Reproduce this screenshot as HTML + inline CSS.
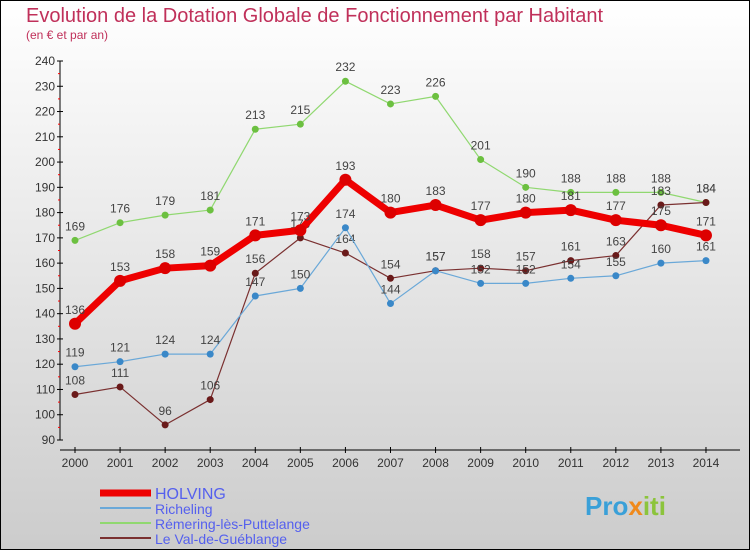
<!DOCTYPE html>
<html><head><meta charset="utf-8"><style>
body{margin:0}
svg{display:block;font-family:"Liberation Sans",sans-serif}
</style></head><body>
<svg id="c" width="750" height="550" xmlns="http://www.w3.org/2000/svg">
<defs><linearGradient id="bg" x1="0" y1="0" x2="0" y2="1"><stop offset="0" stop-color="#ffffff"/><stop offset="1" stop-color="#cccccc"/></linearGradient></defs>
<rect x="0.5" y="0.5" width="749" height="549" fill="url(#bg)" stroke="#000"/>
<text x="26" y="22" font-size="20" fill="#c0305a">Evolution de la Dotation Globale de Fonctionnement par Habitant</text>
<text x="26" y="39" font-size="12" fill="#c0305a">(en € et par an)</text>
<g id="axes"></g><g id="series"></g><g id="legend"></g>
<text x="585" y="515" font-size="26" font-weight="bold" fill="#3aa0d8">Pro<tspan fill="#f08a1c">x</tspan><tspan fill="#8cc43c">iti</tspan></text>
</svg>
<script>
const years=[2000,2001,2002,2003,2004,2005,2006,2007,2008,2009,2010,2011,2012,2013,2014];
const holving=[136,153,158,159,171,173,193,180,183,177,180,181,177,175,171];
const richeling=[119,121,124,124,147,150,174,144,157,152,152,154,155,160,161];
const remering=[169,176,179,181,213,215,232,223,226,201,190,188,188,188,184];
const valgueb=[108,111,96,106,156,170,164,154,157,158,157,161,163,183,184];
const yTicks=[90,100,110,120,130,140,150,160,170,180,190,200,210,220,230,240];
const NS="http://www.w3.org/2000/svg";
const X=i=>75+i*45.07, Y=v=>440-(v-90)*(379/150);
function mk(t,a,p){const e=document.createElementNS(NS,t);for(const k in a)e.setAttribute(k,a[k]);p.appendChild(e);return e;}
const ax=document.getElementById('axes');
const yl=mk('line',{x1:60,y1:Y(240),x2:60,y2:Y(90),stroke:'#000'},ax);


const xl=mk('line',{x1:60,y1:450,x2:740,y2:450,stroke:'#000'},ax);


yTicks.forEach(v=>{
  mk('line',{x1:57,y1:Y(v),x2:63,y2:Y(v),stroke:'#000'},ax);
  if(v<240)mk('line',{x1:58,y1:Y(v+5),x2:60,y2:Y(v+5),stroke:'#f00'},ax);
  const t=mk('text',{x:55,y:Y(v)+4,'font-size':12,fill:'#333','text-anchor':'end'},ax);t.textContent=v;
  
  
});
years.forEach((y,i)=>{
  mk('line',{x1:X(i),y1:447,x2:X(i),y2:453,stroke:'#000'},ax);
  const t=mk('text',{x:X(i),y:467,'font-size':12,fill:'#333','text-anchor':'middle'},ax);t.textContent=y;
  
  
});
const sg=document.getElementById('series');
const defs=[[remering,'#90d870','#6cc040',1.2,3.5,'remering'],[valgueb,'#7a3030','#6a1a1a',1.2,3.5,'le-val-de-gueblange'],[richeling,'#6aa8d8','#3a88c8',1.2,3.5,'richeling'],[holving,'#ee0000','#dd0000',7,6,'holving']];
defs.forEach(([d,lc,pc,w,r,n])=>{
  const g=mk('g',{},sg);
  
  
  mk('polyline',{points:d.map((v,i)=>X(i)+','+Y(v)).join(' '),fill:'none',stroke:lc,'stroke-width':w,'stroke-linejoin':'round'},g);
  d.forEach((v,i)=>{
    const c=mk('circle',{cx:X(i),cy:Y(v),r:r,fill:pc},g);
    
    
    const t=mk('text',{x:X(i),y:Y(v)-10,'font-size':12,fill:'#444','text-anchor':'middle'},g);t.textContent=v;
  });
});
const lg=document.getElementById('legend');
[['HOLVING','#ee0000',7,16],['Richeling','#6aa8d8',2,14],['Rémering-lès-Puttelange','#90d870',2,14],['Le Val-de-Guéblange','#7a3030',2,14]].forEach(([n,c,w,fs],i)=>{
  const y=493+i*15;
  const g=mk('g',{},lg);
  
  
  mk('line',{x1:100,y1:y,x2:151,y2:y,stroke:c,'stroke-width':w},g);
  const t=mk('text',{x:155,y:y+6,'font-size':fs,fill:'#5560ee'},g);t.textContent=n;
});
</script>
</body></html>
